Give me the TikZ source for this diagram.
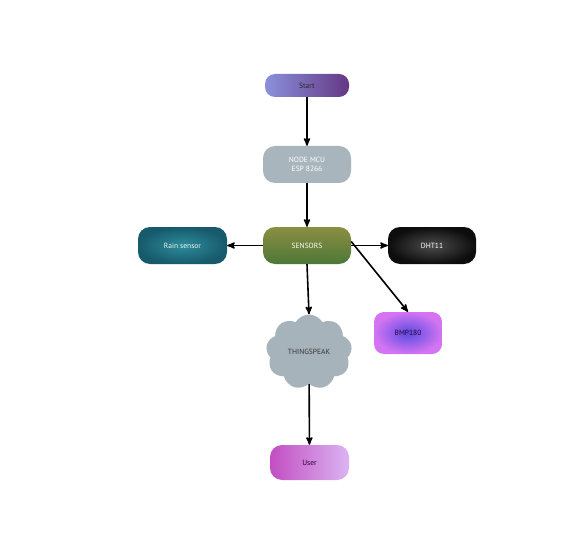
\documentclass[tikz,border=0pt]{standalone}
\usepackage{fontspec}
\setmainfont{PT Sans}
\usetikzlibrary{arrows,shapes.symbols}

\definecolor{mcugray}{HTML}{A9B5BD}
\definecolor{cloudgray}{HTML}{A7B3BB}
\definecolor{startleft}{HTML}{8A90DA}
\definecolor{startright}{HTML}{653785}
\definecolor{senstop}{HTML}{8C8E42}
\definecolor{sensbottom}{HTML}{4C7838}
\definecolor{raininner}{HTML}{2C8C9A}
\definecolor{rainouter}{HTML}{175A6C}
\definecolor{bmpinner}{HTML}{5A4CE2}
\definecolor{bmpouter}{HTML}{D474F2}
\definecolor{userleft}{HTML}{C24EC2}
\definecolor{userright}{HTML}{DCB4F2}

\tikzset{
  block/.style={minimum width=88pt, minimum height=37pt, rounded corners=12pt,
    font=\fontsize{7.5}{9}\selectfont, align=center, inner sep=1pt},
  flow/.style={black, line width=1.6pt, ->, >=stealth'}
}

\begin{document}
\begin{tikzpicture}[x=1pt,y=-1pt]
\useasboundingbox[fill=white] (0,0) rectangle (588,545);
\node[block, minimum width=84pt, minimum height=23pt, rounded corners=10pt,
  left color=startleft, right color=startright,
  text=black!85] (start) at (307,85.5) {Start};
\node[block, fill=mcugray, text=white] (mcu) at (307,164.5) {NODE MCU\\ESP 8266};
\node[block, top color=senstop, bottom color=sensbottom,
  text=white] (sensors) at (307,245.5) {SENSORS};
\node[block, minimum width=89pt, inner color=raininner,
  outer color=rainouter, text=white!90!gray] (rain) at (182.5,245.5) {Rain sensor};
\node[block, inner color=black!70, outer color=black!95, text=white] (dht) at (432,245.5) {DHT11};
\node[block, minimum width=68pt, minimum height=42pt, rounded corners=10pt,
  inner color=bmpinner, outer color=bmpouter,
  text=violet!40!black] (bmp) at (408,333) {BMP180};
\node[cloud, cloud puffs=9, cloud puff arc=120, aspect=1.15, fill=cloudgray,
  minimum width=86pt, minimum height=75pt, inner sep=0pt,
  font=\fontsize{7.5}{9}\selectfont, text=black!80] (thing) at (309,352) {THINGSPEAK};
\node[block, minimum width=79pt, minimum height=35pt, rounded corners=12pt,
  left color=userleft, right color=userright,
  text=violet!30!black] (user) at (309.5,462.5) {User};

\draw[flow] (start) -- (mcu);
\draw[flow] (mcu) -- (sensors);
\draw[flow] (sensors) -- (rain);
\draw[flow] (sensors) -- (dht);
\draw[flow] (sensors.south) -- (thing.north);
\draw[flow] (sensors.east) ++(0,-4) -- (bmp.north);
\draw[flow] (thing) -- (user);
\end{tikzpicture}
\end{document}
